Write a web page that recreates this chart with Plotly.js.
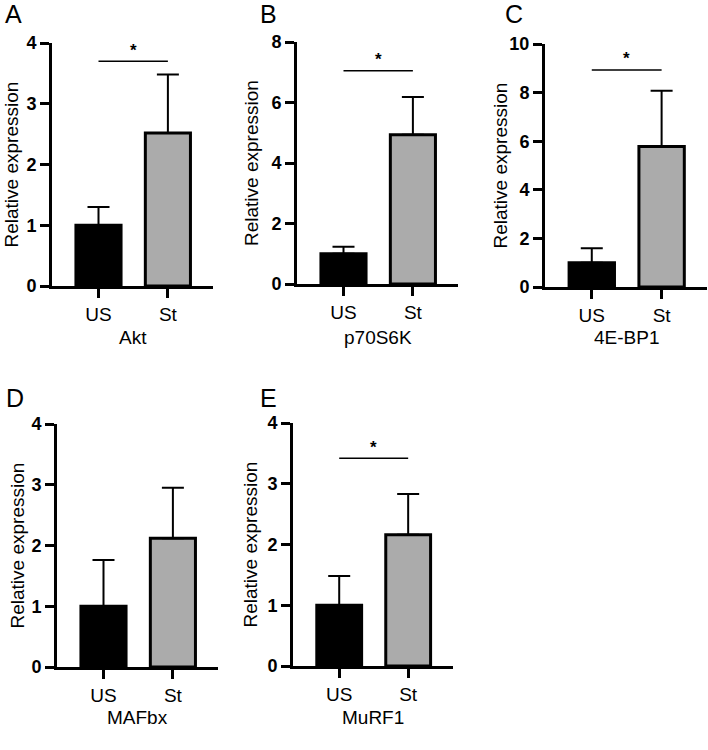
<!DOCTYPE html>
<html>
<head>
<meta charset="utf-8">
<script src="https://cdn.plot.ly/plotly-3.0.1.min.js"></script>
<style>html,body{margin:0;padding:0;background:#fff;}#chart{width:708px;height:750px;}</style>
</head>
<body>
<div id="chart"></div>
<script>
// ---- data ----
const panelLetters = ['A', 'B', 'C', 'D', 'E'];
const genes = ['Akt', 'p70S6K', '4E-BP1', 'MAFbx', 'MuRF1'];
const groups = ['US', 'St'];
const meanUS = [1.0, 1.0, 1.0, 1.0, 1.0];
const meanSt = [2.52, 4.93, 5.78, 2.12, 2.16];
const errUS = [0.30, 0.23, 0.59, 0.76, 0.48];
const errSt = [0.96, 1.25, 2.30, 0.83, 0.67];
const sigY = [3.70, 7.05, 8.93, null, 3.42];
const yMax = [4, 8, 10, 4, 4];
const yStep = [1, 2, 2, 1, 1];
const yTitle = 'Relative expression';

// ---- layout geometry (pixels in a 708x750 figure) ----
const W = 708, H = 750;
const boxes = [ // [left, right, top, bottom] of each plot area
  [52, 213, 43, 286],
  [297, 458, 42, 284],
  [545, 707, 44, 287],
  [57, 218, 424, 667],
  [293, 453, 423, 666]
];
const titleX = [11, 251, 500, 17, 250];
const geneLabelY = [337, 337, 337, 717, 717];
const letterPos = [[3, 14], [258, 14], [503, 14], [4, 398], [258, 398]];

const FONT = 'Liberation Sans, Arial, Helvetica, sans-serif';
const px = v => v / W;
const py = v => 1 - v / H;

const traces = [];
const layout = {
  width: W, height: H,
  margin: {l: 0, r: 0, t: 0, b: 0},
  paper_bgcolor: '#fff', plot_bgcolor: '#fff',
  showlegend: false,
  font: {family: FONT, color: '#000'},
  annotations: []
};

for (let i = 0; i < 5; i++) {
  const sfx = i === 0 ? '' : String(i + 1);
  const xa = 'x' + sfx, ya = 'y' + sfx;
  const [l, r, t, b] = boxes[i];

  traces.push({
    type: 'bar', x: groups, y: [meanUS[i], meanSt[i]],
    xaxis: xa, yaxis: ya, width: 0.65,
    marker: {color: ['#000000', '#ababab'], line: {color: '#000', width: 3}},
    error_y: {type: 'data', symmetric: false, array: [errUS[i], errSt[i]], arrayminus: [0, 0],
              color: '#000', thickness: 2, width: 11},
    hoverinfo: 'skip'
  });

  if (sigY[i] !== null) {
    traces.push({
      type: 'scatter', mode: 'lines', x: groups, y: [sigY[i], sigY[i]],
      xaxis: xa, yaxis: ya, line: {color: '#000', width: 1.5}, hoverinfo: 'skip', cliponaxis: false
    });
    layout.annotations.push({
      xref: xa, yref: ya, x: 0.5, y: sigY[i], text: '<b>*</b>', showarrow: false,
      yanchor: 'middle', yshift: 11, font: {family: FONT, size: 17, color: '#000'}
    });
  }

  const tv = [], tt = [];
  for (let v = 0; v <= yMax[i]; v += yStep[i]) { tv.push(v); tt.push('<b>' + v + '</b>'); }

  layout['xaxis' + sfx] = {
    domain: [px(l), px(r)], anchor: ya, type: 'category',
    range: [-0.67, 1.65], showline: true, linecolor: '#000', linewidth: 3,
    ticks: 'outside', ticklen: 9, tickwidth: 3, tickcolor: '#000',
    tickfont: {family: FONT, size: 19, color: '#000'},
    showgrid: false, zeroline: false, fixedrange: true
  };
  layout['yaxis' + sfx] = {
    domain: [py(b), py(t)], anchor: xa,
    range: [0, yMax[i]], tickmode: 'array', tickvals: tv, ticktext: tt,
    showline: true, linecolor: '#000', linewidth: 3,
    ticks: 'outside', ticklen: 9, tickwidth: 3, tickcolor: '#000',
    tickfont: {family: FONT, size: 18, color: '#000'},
    showgrid: false, zeroline: false, fixedrange: true
  };

  // y-axis title
  layout.annotations.push({
    xref: 'paper', yref: 'paper', x: px(titleX[i]), y: py((t + b) / 2),
    text: yTitle, textangle: -90, showarrow: false,
    xanchor: 'center', yanchor: 'middle',
    font: {family: FONT, size: 19, color: '#000'}
  });
  // gene label
  layout.annotations.push({
    xref: 'paper', yref: 'paper', x: px((l + r) / 2), y: py(geneLabelY[i]),
    text: genes[i], showarrow: false, xanchor: 'center', yanchor: 'middle',
    font: {family: FONT, size: 19, color: '#000'}
  });
  // panel letter
  layout.annotations.push({
    xref: 'paper', yref: 'paper', x: px(letterPos[i][0]), y: py(letterPos[i][1]),
    text: panelLetters[i], showarrow: false, xanchor: 'left', yanchor: 'middle',
    font: {family: FONT, size: 25, color: '#000'}
  });
}

Plotly.newPlot('chart', traces, layout, {staticPlot: true, displayModeBar: false});
</script>
</body>
</html>
